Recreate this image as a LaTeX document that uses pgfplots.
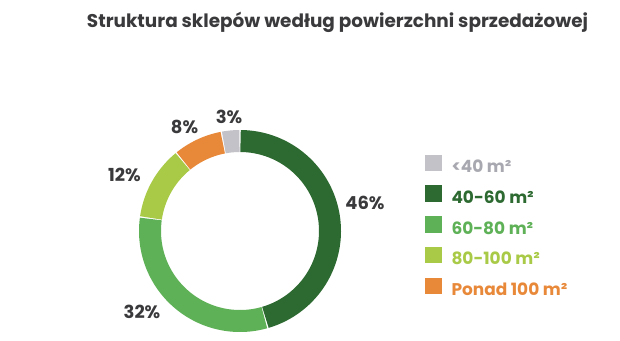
\documentclass[border=0pt]{standalone}
\usepackage{fontspec}
\setmainfont{Poppins}
\usepackage{pgfplots}
\pgfplotsset{compat=1.18}
\definecolor{cgray}{HTML}{C2C2C8}
\definecolor{cdark}{HTML}{2D6A31}
\definecolor{cmid}{HTML}{5FB157}
\definecolor{clight}{HTML}{A9CA47}
\definecolor{corange}{HTML}{E8893A}
\definecolor{ctitle}{HTML}{3A3A3C}
\definecolor{cgraytxt}{HTML}{A8A8B0}
% shares in percent
\def\vA{46}% 40-60 m2
\def\vB{32}% 60-80 m2
\def\vC{12}% 80-100 m2
\def\vD{8}%  Ponad 100 m2
\def\vE{3}%  <40 m2
\pgfmathsetmacro\tot{\vA+\vB+\vC+\vD+\vE}
\pgfmathsetmacro\aA{\vA/\tot*360}
\pgfmathsetmacro\aB{\aA+\vB/\tot*360}
\pgfmathsetmacro\aC{\aB+\vC/\tot*360}
\pgfmathsetmacro\aD{\aC+\vD/\tot*360}
\pgfmathsetmacro\aE{\aD+\vE/\tot*360}
\def\g{0.35}
\pgfmathsetmacro\sA{\g}\pgfmathsetmacro\eA{\aA-\g}
\pgfmathsetmacro\sB{\aA+\g}\pgfmathsetmacro\eB{\aB-\g}
\pgfmathsetmacro\sC{\aB+\g}\pgfmathsetmacro\eC{\aC-\g}
\pgfmathsetmacro\sD{\aC+\g}\pgfmathsetmacro\eD{\aD-\g}
\pgfmathsetmacro\sE{\aD+\g}\pgfmathsetmacro\eE{\aE-\g}
\begin{document}
\begin{tikzpicture}
\begin{axis}[
  scale only axis, width=620bp, height=340bp,
  xmin=0, xmax=620, ymin=0, ymax=340, y dir=reverse,
  hide axis, clip=false,
  legend image code/.code={\fill[#1] (0bp,-3bp) rectangle (16.5bp,13.5bp);},
  legend style={at={(axis cs:425,154.5)}, anchor=north west, draw=none, fill=none,
    inner sep=0pt, outer sep=0pt, row sep=8.75bp, column sep=10bp,
    font=\bfseries\fontsize{17}{19}\selectfont,
    nodes={inner sep=0pt, text height=13bp, text depth=4bp}},
  legend cell align=left,
]
\path (rel axis cs:0,0) rectangle (rel axis cs:1,1);
\addplot[forget plot, cdark, line width=22bp, no marks, samples=90, domain=\sA:\eA] ({240+90*sin(x)},{231-90*cos(x)});
\addplot[forget plot, cmid, line width=22bp, no marks, samples=70, domain=\sB:\eB] ({240+90*sin(x)},{231-90*cos(x)});
\addplot[forget plot, clight, line width=22bp, no marks, samples=40, domain=\sC:\eC] ({240+90*sin(x)},{231-90*cos(x)});
\addplot[forget plot, corange, line width=22bp, no marks, samples=30, domain=\sD:\eD] ({240+90*sin(x)},{231-90*cos(x)});
\addplot[forget plot, cgray, line width=22bp, no marks, samples=15, domain=\sE:\eE] ({240+90*sin(x)},{231-90*cos(x)});
\addlegendimage{draw=none, fill=cgray}
\addlegendentry{\textcolor{cgraytxt}{<40 m²}}
\addlegendimage{draw=none, fill=cdark}
\addlegendentry{\textcolor{cdark}{40-60 m²}}
\addlegendimage{draw=none, fill=cmid}
\addlegendentry{\textcolor{cmid}{60-80 m²}}
\addlegendimage{draw=none, fill=clight}
\addlegendentry{\textcolor{clight}{80-100 m²}}
\addlegendimage{draw=none, fill=corange}
\addlegendentry{\textcolor{corange}{Ponad 100 m²}}
\node[anchor=base, text=ctitle, font=\bfseries\fontsize{18.5}{22}\selectfont] at (axis cs:337.5,27) {Struktura sklepów według powierzchni sprzedażowej};
\begin{scope}[every node/.style={anchor=base, text=ctitle, font=\bfseries\fontsize{18}{20}\selectfont}]
\node at (axis cs:365,209) {\vA\%};
\node at (axis cs:142,318) {\vB\%};
\node at (axis cs:124.5,181) {\vC\%};
\node at (axis cs:184.5,133) {\vD\%};
\node at (axis cs:229,123) {\vE\%};
\end{scope}
\end{axis}
\end{tikzpicture}
\end{document}
